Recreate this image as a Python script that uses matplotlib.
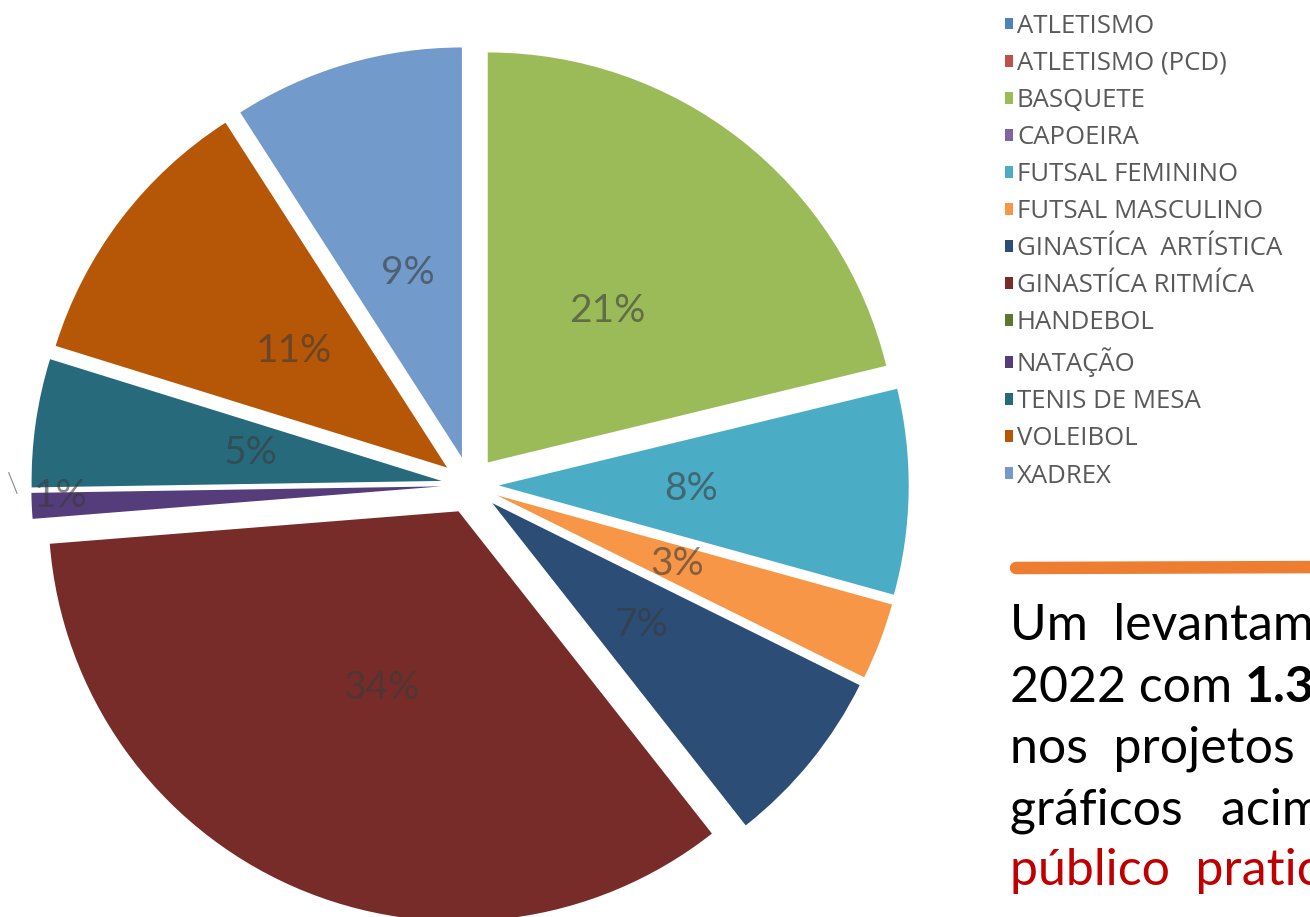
import numpy as np
import matplotlib.pyplot as plt
from matplotlib.patches import Patch

sports = ['ATLETISMO', 'ATLETISMO (PCD)', 'BASQUETE', 'CAPOEIRA', 'FUTSAL FEMININO',
          'FUTSAL MASCULINO', 'GINASTÍCA  ARTÍSTICA', 'GINASTÍCA RITMÍCA', 'HANDEBOL',
          'NATAÇÃO', 'TENIS DE MESA', 'VOLEIBOL', 'XADREX']
shares = [0, 0, 21, 0, 8, 3, 7, 34, 0, 1, 5, 11, 9]
colors = ['#4F81BD', '#C0504D', '#9BBB59', '#8064A2', '#4BACC6', '#F79646', '#2C4D75',
          '#772C2A', '#5F7530', '#553C7A', '#276A7C', '#B65708', '#729ACA']

text_lines = ['Um  levantamento', '2022 com ', 'nos  projetos  esportivos',
              'gráficos   acima', 'público  praticante']
bold_part = '1.3'

W, H = 1310, 917
fig = plt.figure(figsize=(W / 100, H / 100), dpi=100)
ax = fig.add_axes([0, 0, 1, 1])

# pie geometry in pixels
cx, cy, r = 470, 485, 410
wedges, texts, autotexts = ax.pie(
    shares, colors=colors, startangle=90, counterclock=False,
    explode=[0.07] * len(shares), radius=1,
    autopct=lambda p: '%d%%' % round(p) if p > 0.5 else '',
    pctdistance=0.47,
    wedgeprops=dict(linewidth=0),
    textprops=dict(fontsize=28, color='#3a3a3a', family='Lato'))
for t in autotexts:
    t.set_alpha(0.6)

# small slice label sits at the rim
i = sports.index('NATAÇÃO')
w = wedges[i]
ang = np.deg2rad((w.theta1 + w.theta2) / 2)
autotexts[i].set_position((1.0 * np.cos(ang), 1.0 * np.sin(ang) + 0.02))
ax.plot([-1.125, -1.105], [0.03, -0.02], color='#888888', lw=0.8)

ax.set_xlim(-cx / r, (W - cx) / r)
ax.set_ylim(-(H - cy) / r, cy / r)
ax.set_aspect('auto')
ax.axis('off')

handles = [Patch(facecolor=c, edgecolor='none') for c in colors]
fig.legend(handles, sports, loc='upper left', bbox_to_anchor=(992 / W, 1 - 1 / H),
           frameon=False, borderpad=0, handlelength=0.32, handleheight=0.32,
           handletextpad=0.15, labelspacing=0.47,
           prop=dict(family='Open Sans', size=18.5), labelcolor='#595959')

# orange stroke
fig.add_artist(plt.Line2D([1016 / W, 1.02], [1 - 568 / H, 1 - 567 / H],
                          transform=fig.transFigure, color='#ED7D31', lw=9,
                          solid_capstyle='round'))

x0 = 1010 / W
base = [640, 702, 763, 824, 885]
txt_kw = dict(family='Lato', fontsize=36, va='baseline', ha='left')
for k, line in enumerate(text_lines):
    col = '#C00000' if k == 4 else 'black'
    t = fig.text(x0, 1 - base[k] / H, line, color=col, **txt_kw)
    if k == 1:
        fig.canvas.draw()
        bb = t.get_window_extent()
        fig.text(bb.x1 / W, 1 - base[k] / H, bold_part, color='black',
                 fontweight='bold', **txt_kw)

fig.savefig('out.png', dpi=100)
